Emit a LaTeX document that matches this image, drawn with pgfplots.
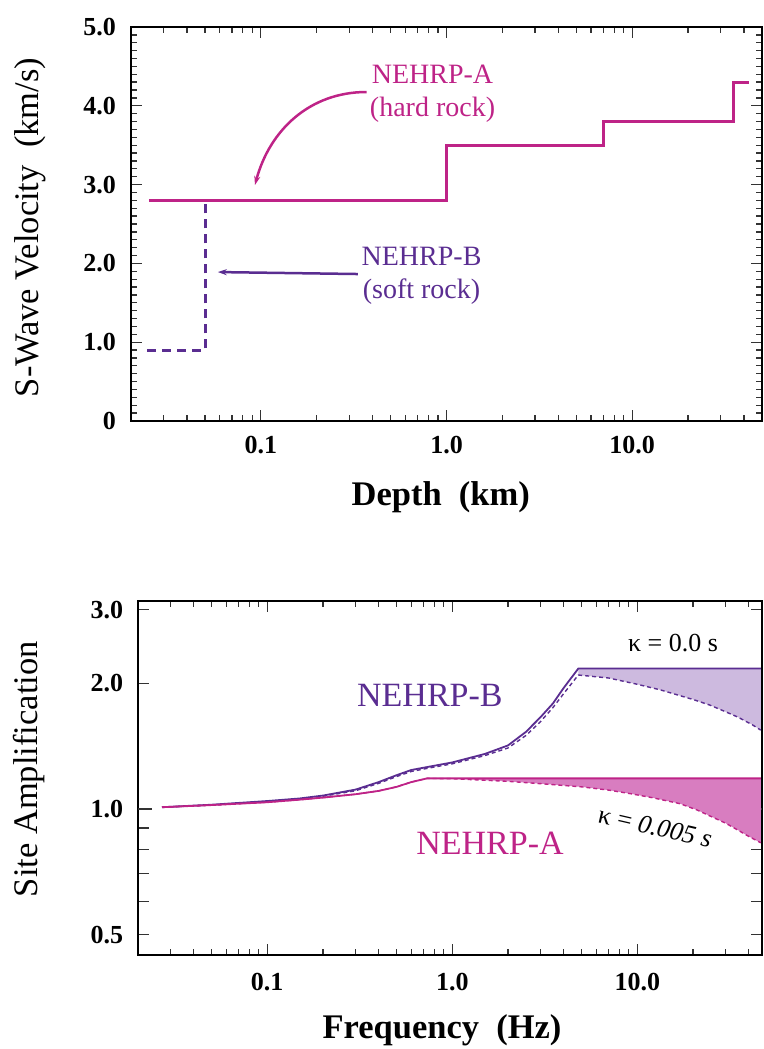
\documentclass[border=0pt]{standalone}
\usepackage{fontspec}
\setmainfont{Liberation Serif}
\usepackage{pgfplots}
\pgfplotsset{compat=1.18}
\usetikzlibrary{arrows.meta}

\definecolor{hardrock}{RGB}{190,35,135}
\definecolor{softrock}{RGB}{90,45,145}
\definecolor{softfill}{RGB}{205,186,223}
\definecolor{hardfill}{RGB}{216,125,192}

\pgfplotsset{
  panel/.style={
    scale only axis,
    axis line style={line width=2pt, black},
    tick style={line width=1.3pt, color=black!80},
    major tick length=11pt, minor tick length=6pt,
    tick align=inside,
    /pgf/number format/assume math mode=true,
    ticklabel style={font=\fontsize{26}{30}\selectfont\bfseries, inner sep=0pt},
    yticklabel shift=15pt,
  }
}

\begin{document}
\begin{tikzpicture}
\useasboundingbox (0pt,0pt) rectangle (763pt,1049pt);

% ---------- velocity profiles ----------
\begin{axis}[panel,
  at={(131pt,628pt)}, anchor=south west, width=631pt, height=394pt,
  xmode=log, xmin=0.02, xmax=50, ymin=0, ymax=5,
  xtick={0.1,1,10}, xticklabels={0.1,1.0,10.0},
  minor xtick={0.03,0.04,0.05,0.06,0.07,0.08,0.09,0.2,0.3,0.4,0.5,0.6,0.7,0.8,0.9,2,3,4,5,6,7,8,9,20,30,40},
  ytick={0,1,2,3,4,5}, yticklabels={0,1.0,2.0,3.0,4.0,5.0}, minor y tick num=9,
  xticklabel shift=15pt,
  xlabel={\textbf{Depth\ \ (km)}}, ylabel={S-Wave Velocity\ \ (km/s)},
  label style={font=\fontsize{34.5}{40}\selectfont},
  xlabel style={at={(axis description cs:0.491,-0.193)}, anchor=center},
  ylabel style={at={(axis description cs:-0.160,0.491)}, anchor=center},
]
\addplot[hardrock, line width=3pt] coordinates {
  (0.025,2.8) (1,2.8) (1,3.5) (7,3.5) (7,3.8) (35,3.8) (35,4.3) (42.5,4.3)};
\addplot[softrock, line width=3pt, dash pattern=on 9pt off 6pt] coordinates {
  (0.0245,0.9) (0.0505,0.9) (0.0505,2.8)};

\node[hardrock, align=center, font=\fontsize{28}{33}\selectfont] at (axis cs:0.841,4.156) {NEHRP-A\\(hard rock)};
\draw[hardrock, line width=2.5pt, -{Stealth[length=9pt,width=6pt]}]
  (axis cs:0.371,4.175) to[out=180,in=75] (axis cs:0.093,2.995);
\node[softrock, align=center, font=\fontsize{28}{33}\selectfont] at (axis cs:0.734,1.846) {NEHRP-B\\(soft rock)};
\draw[softrock, line width=2.5pt, -{Stealth[length=9pt,width=6pt]}]
  (axis cs:0.333,1.865) -- (axis cs:0.0587,1.89);
\end{axis}

% ---------- site amplification ----------
\begin{axis}[panel,
  at={(138.3pt,94pt)}, anchor=south west, width=623.7pt, height=354pt,
  xmode=log, ymode=log, xmin=0.0201, xmax=47.2, ymin=0.447, ymax=3.15,
  xtick={0.1,1,10}, xticklabels={0.1,1.0,10.0},
  minor xtick={0.03,0.04,0.05,0.06,0.07,0.08,0.09,0.2,0.3,0.4,0.5,0.6,0.7,0.8,0.9,2,3,4,5,6,7,8,9,20,30,40},
  ytick={0.5,0.6,0.7,0.8,0.9,2,3}, yticklabels={0.5,,,,,2.0,3.0},
  extra y ticks={1}, extra y tick labels={1.0},
  extra y tick style={major tick length=14pt},
  xticklabel shift=18pt,
  xlabel={\textbf{Frequency\ \ (Hz)}}, ylabel={Site Amplification},
  label style={font=\fontsize{34.5}{40}\selectfont},
  xlabel style={at={(axis description cs:0.487,-0.212)}, anchor=center},
  ylabel style={at={(axis description cs:-0.175,0.525)}, anchor=center},
]
% shaded kappa effect
\addplot[draw=none, fill=softfill] coordinates {
  (4.8,2.17) (46.5,2.17) (46.5,1.545) (42,1.59) (35,1.66) (30,1.71) (24.6,1.775)
  (20,1.83) (13.3,1.93) (10,1.99) (7,2.06) (4.8,2.094)} -- cycle;
\addplot[draw=none, fill=hardfill] coordinates {
  (0.73,1.184) (46.5,1.184) (46.5,0.83) (40,0.86) (35,0.89) (30,0.925) (25,0.96)
  (21,0.995) (17,1.03) (12,1.065) (9,1.09) (7,1.11) (5,1.13) (3,1.15) (2,1.165)
  (1,1.182)} -- cycle;

% NEHRP-B
\addplot[softrock, line width=1.8pt] coordinates {
  (0.027,1.01) (0.05,1.024) (0.1,1.045) (0.15,1.06) (0.2,1.077) (0.3,1.113)
  (0.4,1.16) (0.5,1.205) (0.6,1.24) (0.75,1.263) (1.0,1.293) (1.5,1.355)
  (2.0,1.42) (2.5,1.53) (3.0,1.66) (3.5,1.79) (4.0,1.95) (4.8,2.17) (46.5,2.17)};
\addplot[softrock, line width=1.4pt, dash pattern=on 4pt off 3pt] coordinates {
  (0.027,1.01) (0.05,1.022) (0.1,1.042) (0.15,1.057) (0.2,1.073) (0.3,1.106)
  (0.4,1.152) (0.5,1.196) (0.6,1.23) (0.75,1.254) (1.0,1.283) (1.5,1.343)
  (2.0,1.40) (2.5,1.50) (3.0,1.62) (3.5,1.75) (4.0,1.89) (4.8,2.094) (7,2.06)
  (10,1.99) (13.3,1.93) (20,1.83) (24.6,1.775) (30,1.71) (35,1.66) (42,1.59)
  (46.5,1.545)};

% NEHRP-A
\addplot[hardrock, line width=1.8pt] coordinates {
  (0.027,1.01) (0.05,1.022) (0.1,1.038) (0.15,1.053) (0.2,1.065) (0.3,1.085)
  (0.4,1.105) (0.5,1.13) (0.6,1.16) (0.73,1.184) (46.5,1.184)};
\addplot[hardrock, line width=1.4pt, dash pattern=on 4pt off 3pt] coordinates {
  (0.027,1.01) (0.05,1.022) (0.1,1.038) (0.15,1.053) (0.2,1.065) (0.3,1.085)
  (0.4,1.105) (0.5,1.13) (0.6,1.16) (0.73,1.184) (1,1.182) (2,1.165) (3,1.15)
  (5,1.13) (7,1.11) (9,1.09) (12,1.065) (17,1.03) (21,0.995) (25,0.96)
  (30,0.925) (35,0.89) (40,0.86) (46.5,0.83)};

\node[softrock, font=\fontsize{34}{40}\selectfont] at (axis cs:0.757,1.875) {NEHRP-B};
\node[hardrock, font=\fontsize{34}{40}\selectfont] at (axis cs:1.60,0.829) {NEHRP-A};
\node[font=\fontsize{26}{30}\selectfont] at (axis cs:15.6,2.497) {κ = 0.0 s};
\node[font=\fontsize{26}{30}\selectfont, rotate=-13] at (axis cs:12.5,0.906) {κ = \textit{0.005 s}};
\end{axis}
\end{tikzpicture}
\end{document}
